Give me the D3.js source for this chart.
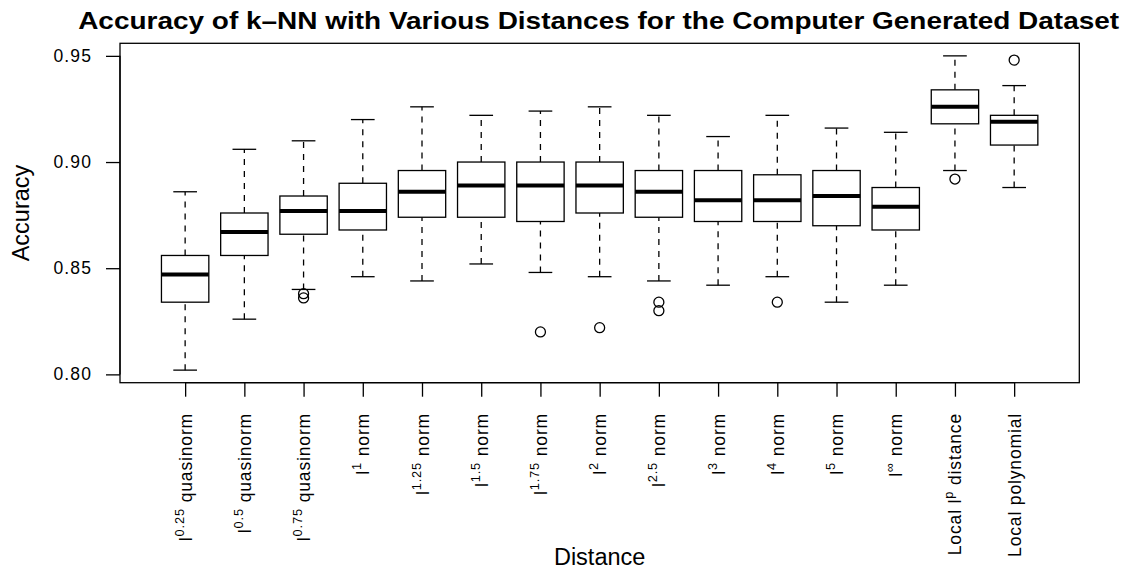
<!DOCTYPE html>
<html><head><meta charset="utf-8">
<script src="https://cdn.jsdelivr.net/npm/d3@7"></script>
<style>
html,body{margin:0;padding:0;background:#fff;}
svg{display:block;font-family:"Liberation Sans",Arial,Helvetica,sans-serif;}
</style></head>
<body>
<svg id="chart" width="1130" height="571"></svg>
<script>
// ---- data ----
const labelMain = ["l","l","l","l","l","l","l","l","l","l","l","l","l","Local l","Local polynomial"];
const labelSup  = ["0.25","0.5","0.75","1","1.25","1.5","1.75","2","2.5","3","4","5","\u221E","p",""];
const labelRest = [" quasinorm"," quasinorm"," quasinorm"," norm"," norm"," norm"," norm"," norm"," norm"," norm"," norm"," norm"," norm"," distance",""];
const whiskerLow  = [0.802,0.826,0.840,0.846,0.844,0.852,0.848,0.846,0.844,0.842,0.846,0.834,0.842,0.896,0.888];
const q1          = [0.834,0.856,0.866,0.868,0.874,0.874,0.872,0.876,0.874,0.872,0.872,0.870,0.868,0.918,0.908];
const medians     = [0.847,0.867,0.877,0.877,0.886,0.889,0.889,0.889,0.886,0.882,0.882,0.884,0.879,0.926,0.919];
const q3          = [0.856,0.876,0.884,0.890,0.896,0.900,0.900,0.900,0.896,0.896,0.894,0.896,0.888,0.934,0.922];
const whiskerHigh = [0.886,0.906,0.910,0.920,0.926,0.922,0.924,0.926,0.922,0.912,0.922,0.916,0.914,0.950,0.936];
const outliers    = [[],[],[0.838,0.836],[],[],[],[0.820],[0.822],[0.834,0.830],[],[0.834],[],[],[0.892],[0.948]];
const yTicks = [0.80,0.85,0.90,0.95];
const titleText = "Accuracy of k\u2013NN with Various Distances for the Computer Generated Dataset";
const xTitle = "Distance";
const yTitle = "Accuracy";

// ---- layout ----
const L = 120, R = 1079.3, T = 43.3, B = 382.7;
const svg = d3.select("#chart");
const idx = d3.range(labelMain.length);
const x = d3.scaleLinear().domain([-0.1, labelMain.length + 1.1]).range([L, R]);
const ext = d3.extent(whiskerLow.concat(whiskerHigh, outliers.flat()));
const pad = (ext[1]-ext[0])*0.04;
const y = d3.scaleLinear().domain([ext[0]-pad, ext[1]+pad]).range([B, T]);
const boxW = 0.8*(x(1)-x(0));
const capW = boxW/2;
const lw = 1.3;

const g = svg.append("g");
// whiskers (dashed)
g.selectAll(".wl").data(idx).join("line")
  .attr("x1", i=>x(i+1)).attr("x2", i=>x(i+1))
  .attr("y1", i=>y(whiskerLow[i])).attr("y2", i=>y(q1[i]))
  .attr("stroke","#000").attr("stroke-width",lw).attr("stroke-dasharray","6,6");
g.selectAll(".wh").data(idx).join("line")
  .attr("x1", i=>x(i+1)).attr("x2", i=>x(i+1))
  .attr("y1", i=>y(q3[i])).attr("y2", i=>y(whiskerHigh[i]))
  .attr("stroke","#000").attr("stroke-width",lw).attr("stroke-dasharray","6,6");
// staples
[whiskerLow, whiskerHigh].forEach(arr=>{
  g.append("g").selectAll("line").data(idx).join("line")
    .attr("x1", i=>x(i+1)-capW/2).attr("x2", i=>x(i+1)+capW/2)
    .attr("y1", i=>y(arr[i])).attr("y2", i=>y(arr[i]))
    .attr("stroke","#000").attr("stroke-width",lw);
});
// boxes
g.append("g").selectAll("rect").data(idx).join("rect")
  .attr("x", i=>x(i+1)-boxW/2).attr("width", boxW)
  .attr("y", i=>y(q3[i])).attr("height", i=>y(q1[i])-y(q3[i]))
  .attr("fill","#fff").attr("stroke","#000").attr("stroke-width",lw);
// medians
g.append("g").selectAll("line").data(idx).join("line")
  .attr("x1", i=>x(i+1)-boxW/2).attr("x2", i=>x(i+1)+boxW/2)
  .attr("y1", i=>y(medians[i])).attr("y2", i=>y(medians[i]))
  .attr("stroke","#000").attr("stroke-width",4);
// outliers
const outPts = [];
outliers.forEach((arr,i)=>arr.forEach(v=>outPts.push({i,v})));
g.append("g").selectAll("circle").data(outPts).join("circle")
  .attr("cx", d=>x(d.i+1)).attr("cy", d=>y(d.v)).attr("r",5)
  .attr("fill","none").attr("stroke","#000").attr("stroke-width",lw);

// frame
svg.append("rect").attr("x",L).attr("y",T).attr("width",R-L).attr("height",B-T)
  .attr("fill","none").attr("stroke","#000").attr("stroke-width",1.3);

// y axis
const yAxis = d3.axisLeft(y).tickValues(yTicks).tickFormat(d3.format(".2f")).tickSize(14).tickPadding(14);
const ya = svg.append("g").attr("transform",`translate(${L},0)`).call(yAxis);
ya.select(".domain").attr("d", `M-0,${y(0.80)}V${y(0.95)}`).attr("stroke-width",1.3);
ya.selectAll(".tick line").attr("stroke-width",1.3);
ya.selectAll("text").attr("font-size","17.5px").attr("letter-spacing","1.1px")
  .attr("font-family","Liberation Sans, Arial, sans-serif").attr("fill","#000");

// x axis
const xAxis = d3.axisBottom(x).tickValues(idx.map(i=>i+1)).tickFormat("").tickSize(14);
const xa = svg.append("g").attr("transform",`translate(0,${B})`).call(xAxis);
xa.select(".domain").attr("d", `M${x(1)},0H${x(labelMain.length)}`).attr("stroke-width",1.3);
xa.selectAll(".tick line").attr("stroke-width",1.3);

// x tick labels (rotated, with superscripts)
const lab = svg.append("g").selectAll("text").data(idx).join("text")
  .attr("transform", i=>`translate(${x(i+1)+6.5},${413}) rotate(-90)`)
  .attr("text-anchor","end")
  .attr("letter-spacing","0.85px")
  .attr("font-size","17.5px").attr("fill","#000");
lab.append("tspan").text(i=>labelMain[i]);
lab.append("tspan").attr("font-size","12.8px").attr("dy", i=>labelSup[i] ? -8 : 0).text(i=>labelSup[i]);
lab.append("tspan").attr("dy", i=>labelSup[i] ? 8 : 0).text(i=>labelRest[i]);

// titles
svg.append("text").attr("x",(L+R)/2 - 1).attr("y",28.5).attr("text-anchor","middle")
  .attr("font-size","24px").attr("font-weight","bold")
  .attr("textLength",1041).attr("lengthAdjust","spacingAndGlyphs").text(titleText);
svg.append("text").attr("x",(L+R)/2).attr("y",565).attr("text-anchor","middle")
  .attr("font-size","23.5px").text(xTitle);
svg.append("text").attr("transform",`translate(28.5,${(T+B)/2}) rotate(-90)`).attr("text-anchor","middle")
  .attr("font-size","23.5px").text(yTitle);
</script>
</body></html>
